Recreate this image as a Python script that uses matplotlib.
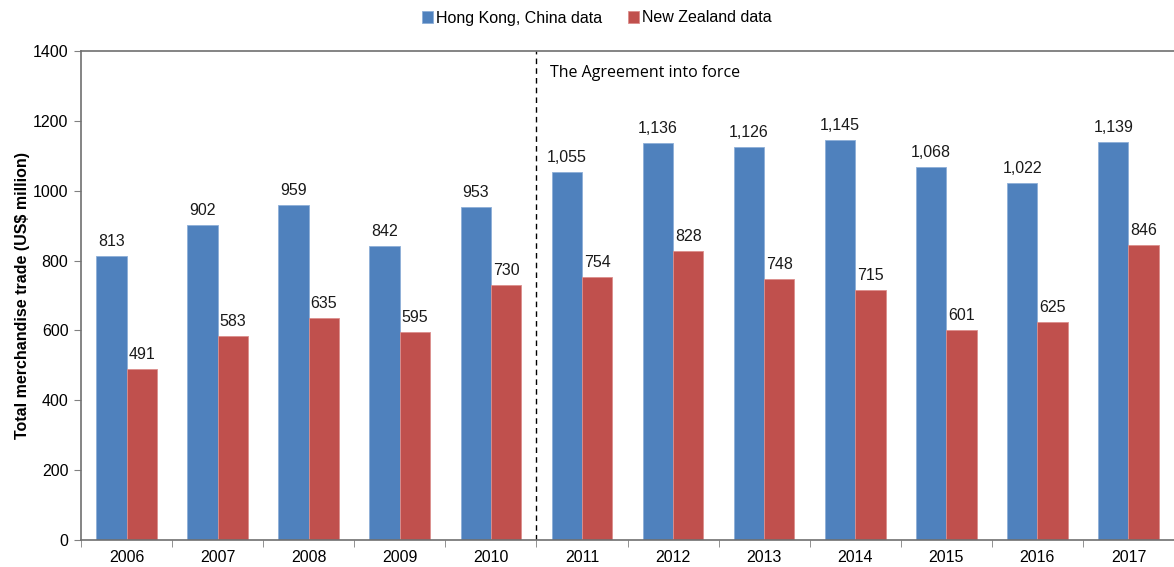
import matplotlib
matplotlib.use('Agg')
import matplotlib.pyplot as plt
import numpy as np

years = ['2006', '2007', '2008', '2009', '2010', '2011', '2012', '2013', '2014', '2015', '2016', '2017']
hk = [813, 902, 959, 842, 953, 1055, 1136, 1126, 1145, 1068, 1022, 1139]
nz = [491, 583, 635, 595, 730, 754, 828, 748, 715, 601, 625, 846]

plt.rcParams['font.family'] = ['Liberation Sans', 'DejaVu Sans']
fs = 11.5

fig = plt.figure(figsize=(11.74, 5.67), dpi=100)
ax = fig.add_axes([81 / 1174, 1 - 540 / 567, 1 - 81 / 1174, (540 - 51) / 567])

x = np.arange(len(years))
w = 1 / 3
b1 = ax.bar(x - w / 2, hk, w, color='#4F81BD', edgecolor='#8EAFD8', linewidth=0.6,
            label='Hong Kong, China data')
b2 = ax.bar(x + w / 2, nz, w, color='#C0504D', edgecolor='#DC8F8D', linewidth=0.6,
            label='New Zealand data')

for bars, vals in ((b1, hk), (b2, nz)):
    for r, v in zip(bars, vals):
        ax.text(r.get_x() + r.get_width() / 2, v + 20, f'{v:,}', ha='center', va='bottom',
                fontsize=fs, color='#1a1a1a')

ax.set_xlim(-0.5, len(years) - 0.5 - 7.7 / 91.67)
ax.set_ylim(0, 1400)
ax.set_yticks(range(0, 1401, 200))
ax.set_xticks(x)
ax.set_xticklabels(years)
ax.set_xticks(np.arange(-0.5, len(years), 1), minor=True)
ax.tick_params(axis='x', which='major', length=0, labelsize=fs, pad=7)
ax.tick_params(axis='x', which='minor', length=5, color='#808080', direction='out')
ax.tick_params(axis='y', length=5, color='#808080', labelsize=fs, direction='out', pad=4)

for s in ('left', 'bottom', 'top'):
    ax.spines[s].set_color('#707070')
    ax.spines[s].set_linewidth(1.2)
ax.spines['right'].set_visible(False)

ax.axvline(4.5, color='black', linestyle=(0, (4, 3)), linewidth=1)
ax.text(4.65, 1338, 'The Agreement into force', fontsize=11.5, family=['Open Sans', 'DejaVu Sans'],
        va='center', ha='left')

ax.set_ylabel('Total merchandise trade (US$ million)', fontsize=fs, fontweight='bold', labelpad=2)

fig.legend(handles=[b1, b2], loc='center', bbox_to_anchor=(597 / 1174, 1 - 18 / 567), ncol=2,
           frameon=False, fontsize=fs, handlelength=0.7, handleheight=0.7,
           handletextpad=0.2, columnspacing=1.6)

fig.savefig('out.png', dpi=100)
